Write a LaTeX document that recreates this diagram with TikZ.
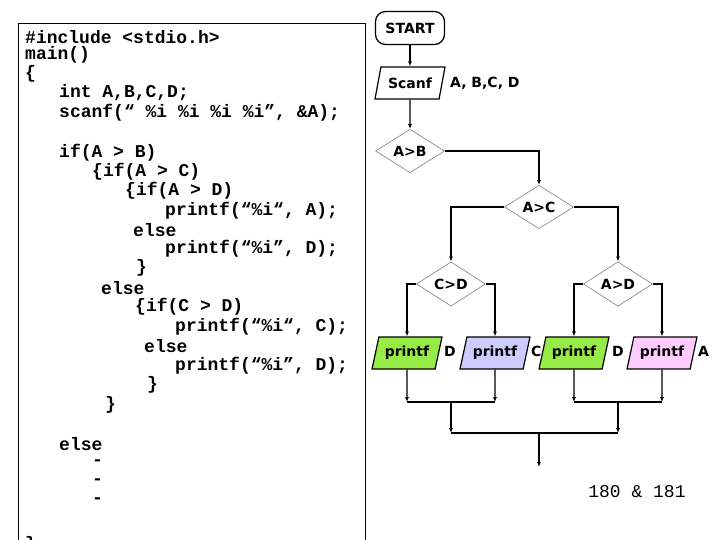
\documentclass[tikz,border=0pt]{standalone}
\usepackage{fontspec}
\setmainfont{DejaVu Sans}
\newfontfamily\codefont{Liberation Mono}
\usetikzlibrary{shapes.geometric,arrows.meta}
\definecolor{pgreen}{RGB}{150,235,70}
\definecolor{plav}{RGB}{204,204,255}
\definecolor{ppink}{RGB}{255,204,255}
\begin{document}
\begin{tikzpicture}[x=1pt,y=-1pt,
  code/.style={anchor=west,inner sep=0pt,font=\codefont\bfseries\fontsize{18}{18}\selectfont},
  fl/.style={font=\bfseries\fontsize{14}{14}\selectfont},
  para/.style={fl,draw,line width=1.2pt,trapezium,trapezium left angle=70,trapezium right angle=110,trapezium stretches=true,minimum width=70pt,minimum height=32pt,inner sep=1pt},
  dia/.style={fl,draw=gray,line width=0.6pt,diamond,minimum width=69pt,minimum height=42pt,inner sep=0pt},
  lab/.style={fl,anchor=west,inner sep=0pt},
  ln/.style={line width=1.3pt},
  ar/.style={ln,-{Latex[length=5pt,width=4pt]}}]
\useasboundingbox (0,0) rectangle (720,540);
\fill[white] (0,0) rectangle (720,540);
\draw[line width=0.8pt] (18,23) -- (18,545) (18,23) -- (365,23) -- (365,545);
% code
\node[code] (c1) at (25,37) {\#include <stdio.h>};
\node[code] (c2) at (25,55) {main()};
\node[code] (c3) at (25,74) {\{};
\node[code] (c4) at (59,93) {int A,B,C,D;};
\node[code] (c5) at (59,113) {scanf(“ \%i \%i \%i \%i”, \&A);};
\node[code] (c6) at (59,153) {if(A > B)};
\node[code] (c7) at (92,172) {\{if(A > C)};
\node[code] (c8) at (125,191) {\{if(A > D)};
\node[code] (c9) at (165,211) {printf(“\%i“, A);};
\node[code] (c10) at (133,230) {else};
\node[code] (c11) at (165,249) {printf(“\%i”, D);};
\node[code] (c12) at (136,268) {\}};
\node[code] (c13) at (101,288) {else};
\node[code] (c14) at (135,307) {\{if(C > D)};
\node[code] (c15) at (175,327) {printf(“\%i“, C);};
\node[code] (c16) at (144,346) {else};
\node[code] (c17) at (175,366) {printf(“\%i”, D);};
\node[code] (c18) at (147,385) {\}};
\node[code] (c19) at (105,405) {\}};
\node[code] (c20) at (59,444) {else};
\node[code] (c21) at (92,463) {-};
\node[code] (c22) at (92,482) {-};
\node[code] (c23) at (92,501) {-};
\node[code] (c24) at (25,545) {\}};
% flowchart
\node[fl,draw,line width=1.2pt,rounded corners=10pt,minimum width=69pt,minimum height=33pt] (start) at (410,28) {START};
\node[para] (scan) at (410,83) {Scanf};
\node[lab] (scanl) at (450,83) {A, B,C, D};
\node[dia] (ab) at (410,151) {A>B};
\node[dia] (ac) at (539,207) {A>C};
\node[dia] (cd) at (451,284) {C>D};
\node[dia] (ad) at (618,284) {A>D};
\node[para,fill=pgreen] (p1) at (407,353) {printf};
\node[lab] (p1l) at (444,351) {D};
\node[para,fill=plav] (p2) at (495,353) {printf};
\node[lab] (p2l) at (531,351) {C};
\node[para,fill=pgreen] (p3) at (574,353) {printf};
\node[lab] (p3l) at (612,351) {D};
\node[para,fill=ppink] (p4) at (662,353) {printf};
\node[lab] (p4l) at (698,351) {A};
\coordinate (m1) at (407,402); \coordinate (m2) at (495,402);
\coordinate (m3) at (574,402); \coordinate (m4) at (662,402);
\coordinate (n1) at (451,433); \coordinate (n2) at (618,433);
\coordinate (e) at (539,467); \coordinate (nm) at (539,433);
\draw[ar] (start) -- (scan);
\draw[ar] (scan) -- (ab);
\draw[ar] (ab.east) -| (ac.north);
\draw[ar] (ac.west) -| (cd.north);
\draw[ar] (ac.east) -| (ad.north);
\draw[ar] (cd.west) -| (p1.north);
\draw[ar] (cd.east) -| (p2.north);
\draw[ar] (ad.west) -| (p3.north);
\draw[ar] (ad.east) -| (p4.north);
\draw[ar] (p1.south) -- (m1);
\draw[ar] (p2.south) -- (m2);
\draw[ar] (p3.south) -- (m3);
\draw[ar] (p4.south) -- (m4);
\draw[ln] (m1) -- (m2) (m3) -- (m4);
\draw[ar] (451,402) -- (n1);
\draw[ar] (618,402) -- (n2);
\draw[ln] (n1) -- (n2);
\draw[ar] (nm) -- (e);
\node[font=\codefont\fontsize{18}{18}\selectfont] (pg) at (637,492) {180 \& 181};
\end{tikzpicture}
\end{document}
